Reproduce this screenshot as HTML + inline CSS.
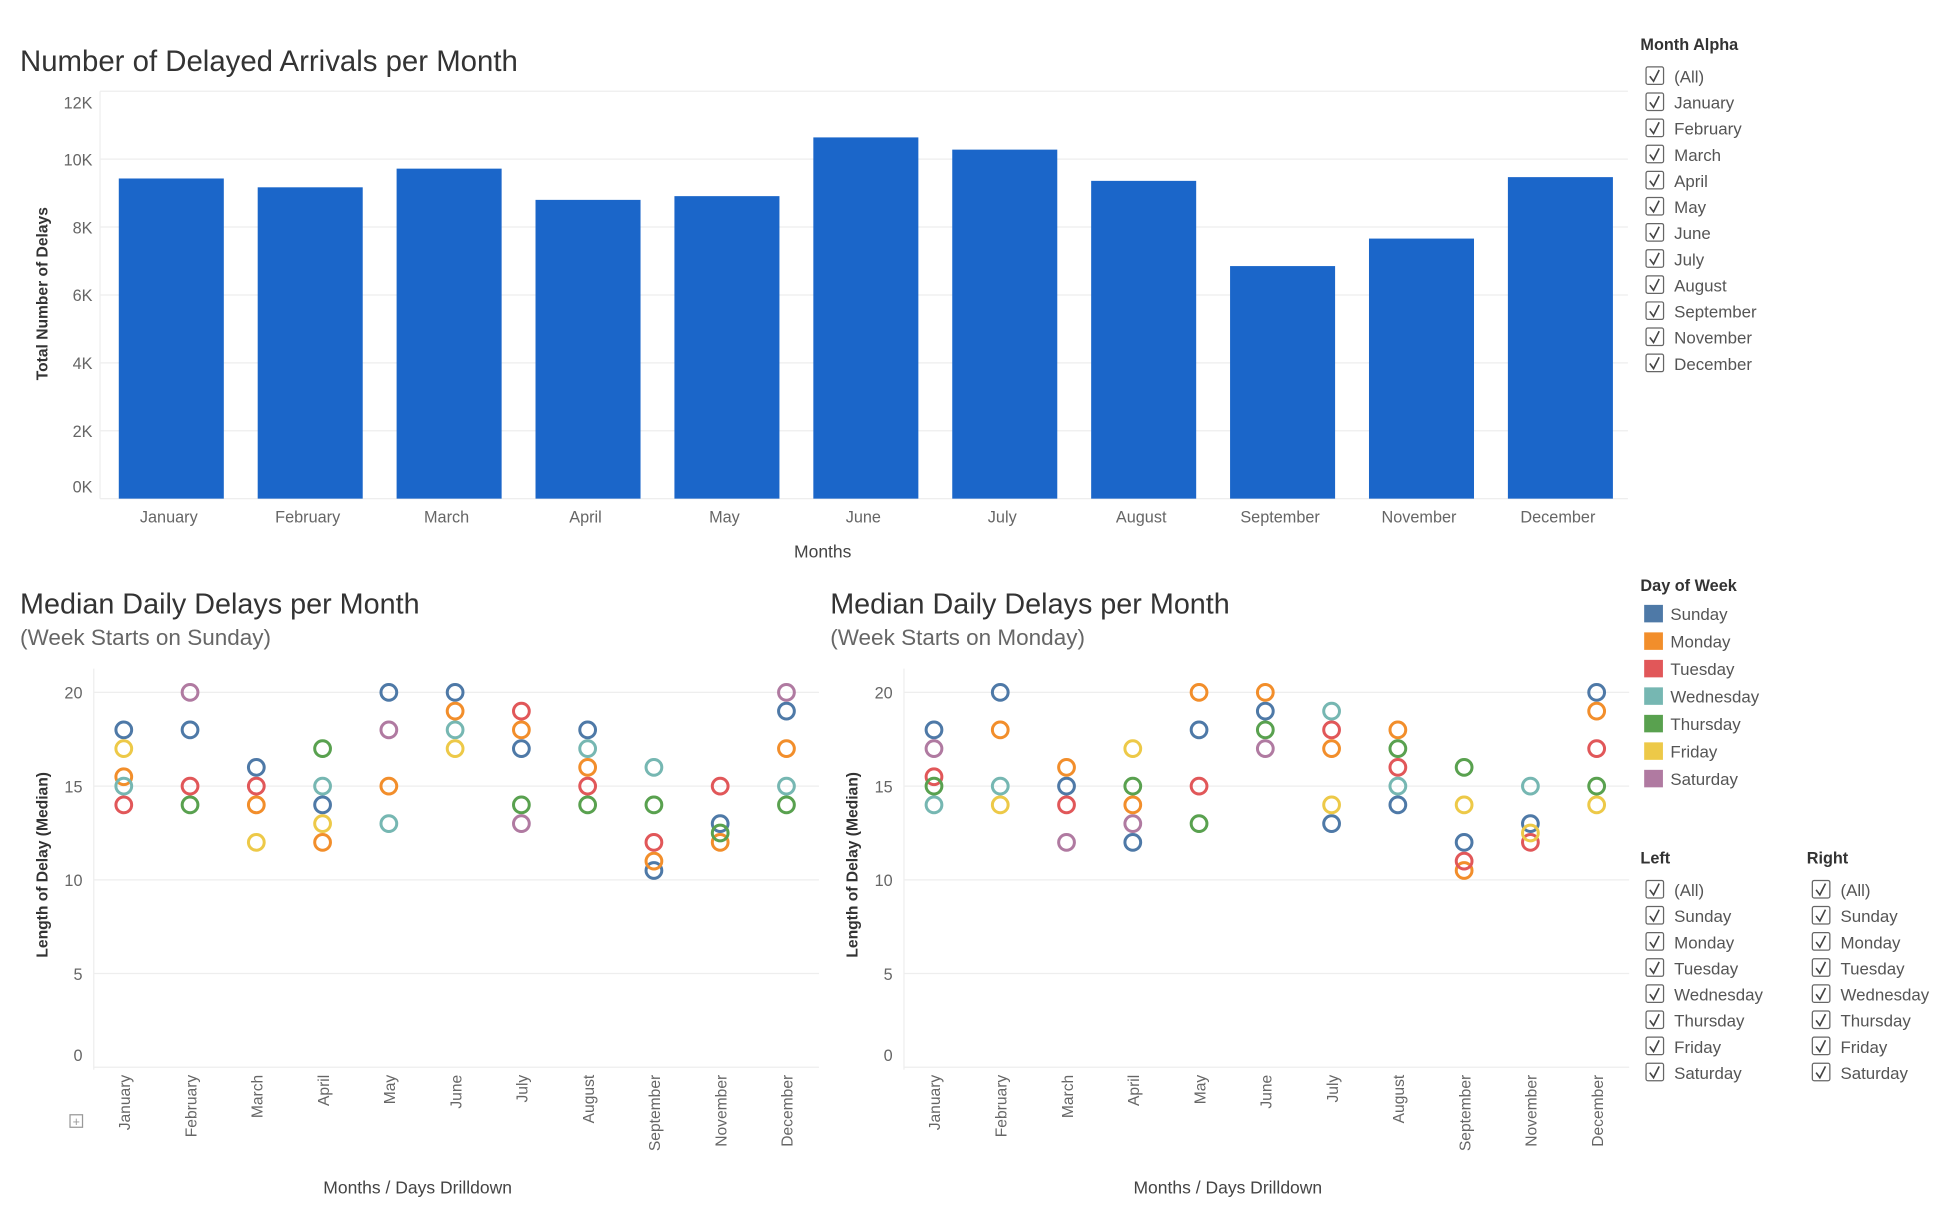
<!DOCTYPE html>
<html><head><meta charset="utf-8"><style>
html,body{margin:0;padding:0;background:#fff;}
svg{display:block;font-family:"Liberation Sans",sans-serif;}
</style></head><body>
<svg id="root" width="1938" height="1206" viewBox="0 0 1550 965" preserveAspectRatio="none" xmlns="http://www.w3.org/2000/svg">
<rect width="1550" height="965" fill="#fff"/>
<g id="bar"></g><g id="left"></g><g id="right"></g><g id="legends"></g>
</svg>
<script>
const months = ["January","February","March","April","May","June","July","August","September","November","December"];
const delays = [9430,9170,9720,8800,8910,10640,10280,9360,6850,7660,9470];
const barTicks = ["0K","2K","4K","6K","8K","10K","12K"];
const days = ["Sunday","Monday","Tuesday","Wednesday","Thursday","Friday","Saturday"];
const dayColors = ["#4e79a7","#f28e2b","#e15759","#76b7b2","#59a14f","#edc948","#b07aa1"];
// per month: [Sun,Mon,Tue,Wed,Thu,Fri,Sat]
const leftMedians = [
 [18,15.5,14,15,null,17,null],
 [18,null,15,null,14,null,20],
 [16,14,15,null,null,12,null],
 [14,12,null,15,17,13,null],
 [20,15,null,13,null,null,18],
 [20,19,null,18,null,17,null],
 [17,18,19,null,14,null,13],
 [18,16,15,17,14,null,null],
 [10.5,11,12,16,14,null,null],
 [13,12,15,null,12.5,null,null],
 [19,17,null,15,14,null,20]];
const rightMedians = [
 [18,null,15.5,14,15,null,17],
 [20,18,null,15,null,14,null],
 [15,16,14,null,null,null,12],
 [12,14,null,null,15,17,13],
 [18,20,15,null,13,null,null],
 [19,20,null,null,18,null,17],
 [13,17,18,19,null,14,null],
 [14,18,16,15,17,null,null],
 [12,10.5,11,null,16,14,null],
 [13,null,12,15,null,12.5,null],
 [20,19,17,null,15,14,null]];
const scatterTicks = [0,5,10,15,20];
const monthFilter = ["(All)","January","February","March","April","May","June","July","August","September","November","December"];
const dayFilter = ["(All)","Sunday","Monday","Tuesday","Wednesday","Thursday","Friday","Saturday"];

const NS="http://www.w3.org/2000/svg";
function mk(parent,tag,attrs,text){const e=document.createElementNS(NS,tag);for(const k in attrs)e.setAttribute(k,attrs[k]);if(text!==undefined)e.textContent=text;parent.appendChild(e);return e;}

// ---- Bar chart
const bg=document.getElementById('bar');
let t=mk(bg,'text',{x:16,y:57,'font-size':23.5,fill:'#333'},'Number of Delayed Arrivals per Month');


const by=v=>399-v/12000*326;
const bx=i=>137+i*111.1;
barTicks.forEach((lab,i)=>{const v=i*2000;const y=by(v);
 const l=mk(bg,'line',{x1:80,x2:1302,y1:y,y2:y,stroke:'#eee','stroke-width':1});
 
 
 let ly=y+5; if(i===0)ly=y-5; if(i===6)ly=y+14;
 const tx=mk(bg,'text',{x:74,y:ly,'font-size':13,fill:'#666','text-anchor':'end'},lab);
 
 
});
mk(bg,'line',{x1:80,x2:80,y1:73,y2:399,stroke:'#eee'});
months.forEach((m,i)=>{const x=bx(i);const y=by(delays[i]);
 const r=mk(bg,'rect',{x:x-42,y:y,width:84,height:399-y,fill:'#1b66c9'});
 
 
 const tx=mk(bg,'text',{x:x-2,y:418,'font-size':13,fill:'#666','text-anchor':'middle'},m);
 
 
});
t=mk(bg,'text',{x:658,y:446,'font-size':14,fill:'#444','text-anchor':'middle'},'Months');


t=mk(bg,'text',{x:0,y:0,'font-size':12.5,'font-weight':'bold',fill:'#333','text-anchor':'middle',transform:'translate(38,235) rotate(-90)'},'Total Number of Delays');



// ---- Scatter charts
function scatter(gid,ox,subtitle,data,prefix){
 const g=document.getElementById(gid);
 let e=mk(g,'text',{x:ox,y:491,'font-size':23,fill:'#333'},'Median Daily Delays per Month');
 
 
 e=mk(g,'text',{x:ox,y:516,'font-size':18,fill:'#666'},subtitle);
 
 
 const x0=ox+59, yb=854;
 const sy=v=>yb-v*15;
 const sx=i=>ox+83+i*53;
 scatterTicks.forEach(v=>{const y=sy(v);
  const l=mk(g,'line',{x1:x0,x2:x0+580,y1:y,y2:y,stroke:'#eee'});
  
  
  const tx=mk(g,'text',{x:x0-9,y:v===0?y-5:y+5,'font-size':13,fill:'#666','text-anchor':'end'},String(v));
  
  
 });
 mk(g,'line',{x1:x0,x2:x0,y1:535,y2:856,stroke:'#eee'});
 months.forEach((m,i)=>{const x=sx(i);
  const tx=mk(g,'text',{x:0,y:0,'font-size':12.5,fill:'#666','text-anchor':'end',transform:`translate(${x+5},860) rotate(-90)`},m);
  
  
  data[i].forEach((v,d)=>{ if(v===null)return;
   const c=mk(g,'circle',{cx:x,cy:sy(v),r:6.3,fill:'none',stroke:dayColors[d],'stroke-width':2.4});
   
   
  });
 });
 e=mk(g,'text',{x:ox+318,y:955,'font-size':14,fill:'#444','text-anchor':'middle'},'Months / Days Drilldown');
 
 
 e=mk(g,'text',{x:0,y:0,'font-size':12.5,'font-weight':'bold',fill:'#333','text-anchor':'middle',transform:`translate(${ox+22},692) rotate(-90)`},'Length of Delay (Median)');
 
 
}
scatter('left',16,'(Week Starts on Sunday)',leftMedians,'left-scatter');
scatter('right',664,'(Week Starts on Monday)',rightMedians,'right-scatter');
const lg0=document.getElementById('left');
const pb=mk(lg0,'rect',{x:56,y:892,width:10,height:10,fill:'none',stroke:'#999'});


mk(lg0,'text',{x:61,y:901,'font-size':10,fill:'#999','text-anchor':'middle'},'+');

// ---- Legends
const lg=document.getElementById('legends');
function checklist(x,y0,title,items,prefix){
 let e=mk(lg,'text',{x:x,y:y0,'font-size':13,'font-weight':'bold',fill:'#333'},title);
 
 
 items.forEach((it,i)=>{const y=y0+21+i*20.9;
  const b=mk(lg,'rect',{x:x+4.5,y:y-7.5,width:14,height:14,fill:'#fff',stroke:'#666','stroke-width':1,rx:1.5});
  
  
  mk(lg,'path',{d:`M${x+7.5} ${y} L${x+10.5} ${y+4} L${x+15} ${y-5}`,fill:'none',stroke:'#444','stroke-width':1.3});
  const tx=mk(lg,'text',{x:x+27,y:y+5,'font-size':13.5,fill:'#555'},it);
  
  
 });
}
checklist(1312,40,'Month Alpha',monthFilter,'month-filter');
checklist(1312,691,'Left',dayFilter,'left-filter');
checklist(1445,691,'Right',dayFilter,'right-filter');
let e=mk(lg,'text',{x:1312,y:473,'font-size':13,'font-weight':'bold',fill:'#333'},'Day of Week');


days.forEach((d,i)=>{const y=491+i*22;
 const s=mk(lg,'rect',{x:1315,y:y-7,width:15,height:14,fill:dayColors[i]});
 
 
 const tx=mk(lg,'text',{x:1336,y:y+5,'font-size':13.5,fill:'#555'},d);
 
 
});
</script>
</body></html>
